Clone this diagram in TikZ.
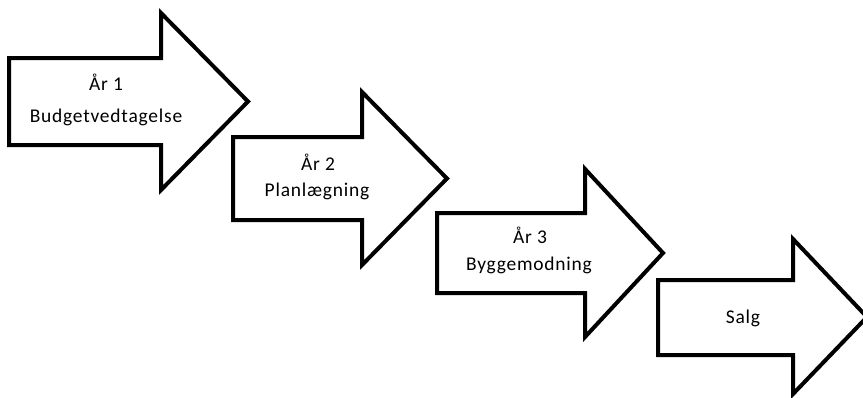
\documentclass[tikz,border=0pt]{standalone}
\usepackage{fontspec}
\setmainfont[LetterSpace=4]{Carlito}
\begin{document}
\begin{tikzpicture}[x=0.75pt,y=-0.75pt,
  stepshape/.style={draw=black, fill=white, line width=3pt, miter limit=10},
  steptext/.style={anchor=base, inner sep=0pt, font=\fontsize{14.6}{18}\selectfont, text=black}]

\useasboundingbox (0,0) rectangle (863,397);

\draw [stepshape] (9,58) -- (161,58) -- (161,13) -- (248,101.5) -- (161,190) -- (161,145) -- (9,145) -- cycle;
\draw [stepshape] (233,137) -- (362,137) -- (362,92) -- (447,178.5) -- (362,265) -- (362,220) -- (233,220) -- cycle;
\draw [stepshape] (437,213) -- (585,213) -- (585,169) -- (663,253) -- (585,337) -- (585,293) -- (437,293) -- cycle;
\draw [stepshape] (658,280) -- (793,280) -- (793,239) -- (867,317) -- (793,394) -- (793,355) -- (658,355) -- cycle;

\node (y1) at (106,90) [steptext] {År 1};
\node (t1) at (106,122) [steptext] {Budgetvedtagelse};
\node (y2) at (318,170) [steptext] {År 2};
\node (t2) at (317,196) [steptext] {Planlægning};
\node (y3) at (530,243) [steptext] {År 3};
\node (t3) at (529,270) [steptext] {Byggemodning};
\node (t4) at (743,323) [steptext] {Salg};
\end{tikzpicture}
\end{document}
